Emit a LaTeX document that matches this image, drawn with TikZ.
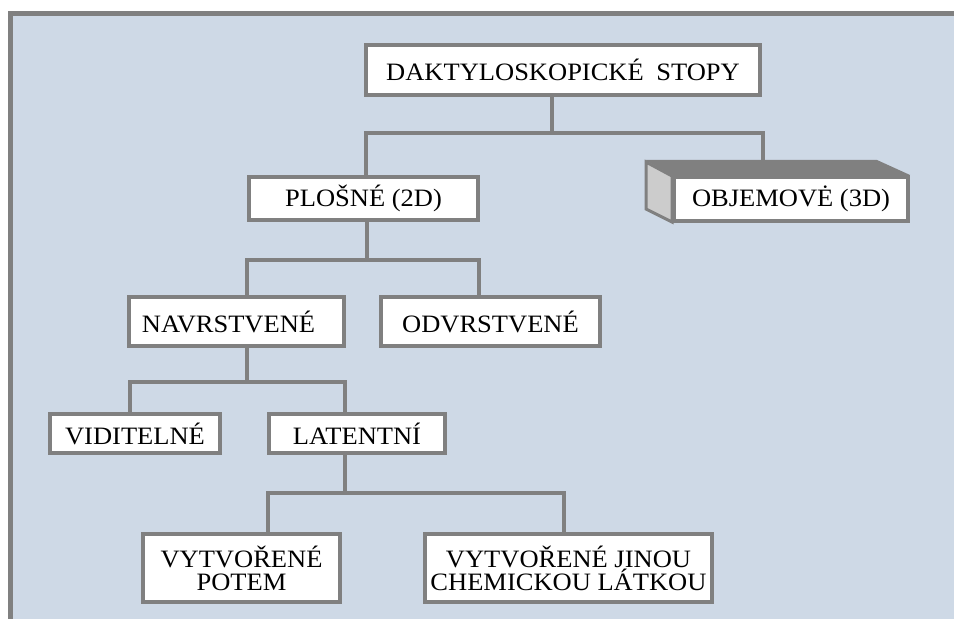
\documentclass[tikz,border=0pt]{standalone}
\usepackage{fontspec}
\setmainfont{Liberation Serif}[FakeStretch=1.06]

\definecolor{panelblue}{RGB}{206,217,230}
\definecolor{linegray}{RGB}{128,128,128}
\definecolor{sidegray}{RGB}{204,204,204}

\tikzset{
  box/.style={draw=linegray, line width=2pt, fill=white, inner sep=0pt,
    align=center, font=\fontsize{12.5}{11.5}\selectfont},
  conn/.style={draw=linegray, line width=2pt, line join=miter}
}

\begin{document}
\begin{tikzpicture}[x=0.5pt,y=-0.5pt]
    % Background panel
    \useasboundingbox (0,0) rectangle (954,619);
    \fill[white] (0,0) rectangle (954,619);
    \draw[line width=2.5pt, draw=linegray, fill=panelblue] (10.5,14) rectangle (975,645);

    % Boxes
    \node[box, minimum width=197pt, minimum height=25pt] (stopy) at (563,70) {DAKTYLOSKOPICKÉ\enspace STOPY};
    \node[box, minimum width=114.5pt, minimum height=21.5pt] (plosne) at (363.5,198.5) {PLOŠNÉ (2D)};

    % 3D box for the volume traces
    \fill[linegray] (645,160) -- (877,160) -- (910,175) -- (672,175) -- cycle;
    \draw[linegray, line width=1.5pt, fill=sidegray] (646,162) -- (672,176) -- (672,222) -- (646,209) -- cycle;
    \node[box, minimum width=117pt, minimum height=22pt] (objem) at (791,199) {OBJEMOVĖ (3D)};
    \coordinate (objtop) at (763,160);

    \node[box, minimum width=107.5pt, minimum height=24.5pt] (navr) at (236.5,321.5) {NAVRSTVENÉ\hspace{8pt}};
    \node[box, minimum width=109.5pt, minimum height=24.5pt] (odvr) at (490.5,321.5) {ODVRSTVENÉ};
    \node[box, minimum width=85pt, minimum height=19.5pt] (vidit) at (135,433.5) {VIDITELNÉ};
    \node[box, minimum width=88pt, minimum height=19.5pt] (latent) at (357,433.5) {LATENTNÍ};
    \node[box, minimum width=98.5pt, minimum height=34pt] (potem) at (241.5,568) {VYTVOŘENÉ\\POTEM};
    \node[box, minimum width=143.5pt, minimum height=34pt] (jinou) at (568.5,568) {VYTVOŘENÉ JINOU\\CHEMICKOU LÁTKOU};

    % Connectors
    \draw[conn] ([xshift=-5.5pt]stopy.south) -- ++(0,36) coordinate (b1);
    \draw[conn] ([xshift=1pt]plosne.north) |- (b1) -| (objtop);

    \draw[conn] ([xshift=1.5pt]plosne.south) -- ++(0,38) coordinate (b2);
    \draw[conn] ([xshift=5pt]navr.north) |- (b2) -| ([xshift=-6pt]odvr.north);

    \draw[conn] ([xshift=5pt]navr.south) -- ++(0,34) coordinate (b3);
    \draw[conn] ([xshift=-2.5pt]vidit.north) |- (b3) -| ([xshift=-6pt]latent.north);

    \draw[conn] ([xshift=-6pt]latent.south) -- ++(0,38) coordinate (b4);
    \draw[conn] ([xshift=13pt]potem.north) |- (b4) -| ([xshift=-2.5pt]jinou.north);

\end{tikzpicture}
\end{document}
